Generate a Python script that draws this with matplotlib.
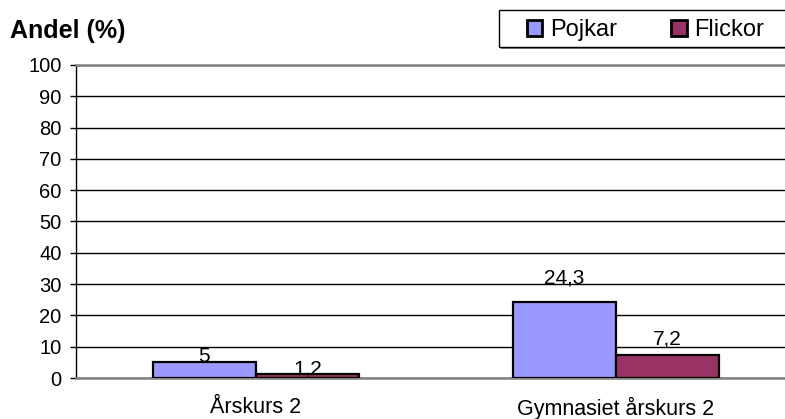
import matplotlib.pyplot as plt
from matplotlib.patches import Rectangle
import numpy as np

plt.rcParams['font.family'] = ['Liberation Sans', 'DejaVu Sans']

categories = ['Årskurs 2', 'Gymnasiet årskurs 2']
series = ['Pojkar', 'Flickor']
pojkar = [5, 24.3]
flickor = [1.2, 7.2]
colors = ['#9999ff', '#993366']
# label lift above bar top, in points (Excel moved some labels)
label_lift = [[0, 13.4], [0, 8]]

W, H = 785, 419
fig = plt.figure(figsize=(W / 100, H / 100), dpi=100)
ax = fig.add_axes([76 / W, 1 - 378 / H, 719.5 / W, (378 - 65) / H])

x = np.arange(len(categories))
w = 0.2864
b1 = ax.bar(x - w / 2, pojkar, w, color=colors[0], edgecolor='black', linewidth=1.6, label=series[0], zorder=3)
b2 = ax.bar(x + w / 2, flickor, w, color=colors[1], edgecolor='black', linewidth=1.6, label=series[1], zorder=3)

for bars, vals, lifts in ((b1, pojkar, label_lift[0]), (b2, flickor, label_lift[1])):
    for r, v, lf in zip(bars, vals, lifts):
        ax.annotate(f'{v:g}'.replace('.', ','), (r.get_x() + r.get_width() / 2, v),
                    xytext=(0, lf), textcoords='offset points',
                    ha='center', va='baseline', fontsize=15, zorder=4)

ax.set_xlim(-0.5, 1.5)
ax.set_ylim(0, 100)
ax.set_yticks(range(0, 101, 10))
ax.set_xticks(x)
ax.set_xticklabels(categories, fontsize=15.5)
ax.tick_params(axis='x', length=0, pad=13.5)
ax.tick_params(axis='y', labelsize=14.5, length=4.3, width=1, direction='out', color='black', pad=6)
ax.yaxis.grid(True, color='black', linewidth=1, zorder=0)
ax.spines['right'].set_visible(False)
ax.spines['top'].set_color('#808080')
ax.spines['top'].set_linewidth(1.8)
ax.spines['left'].set_color('black')
ax.spines['left'].set_linewidth(1)
ax.spines['bottom'].set_color('#808080')
ax.spines['bottom'].set_linewidth(1.8)

fig.text(10 / W, 1 - 38 / H, 'Andel (%)', fontsize=18, fontweight='bold', va='baseline')

# legend frame with a small drop shadow, running off the right edge
fig.patches.append(Rectangle((501 / W, 1 - 49 / H), 300 / W, 37 / H, transform=fig.transFigure,
                             facecolor='#808080', edgecolor='none', zorder=1))
fig.patches.append(Rectangle((499 / W, 1 - 47 / H), 300 / W, 37 / H, transform=fig.transFigure,
                             facecolor='white', edgecolor='black', linewidth=1, zorder=2))

leg = fig.legend(loc='center left', bbox_to_anchor=(527 / W, 1 - 30 / H), ncol=2,
                 fontsize=17, frameon=False,
                 handlelength=0.64, handleheight=0.64, handletextpad=0.34, columnspacing=2.3,
                 borderpad=0, borderaxespad=0)
leg.set_zorder(3)
for p in leg.get_patches():
    p.set_linewidth(2)

fig.savefig('out.png', dpi=100)
